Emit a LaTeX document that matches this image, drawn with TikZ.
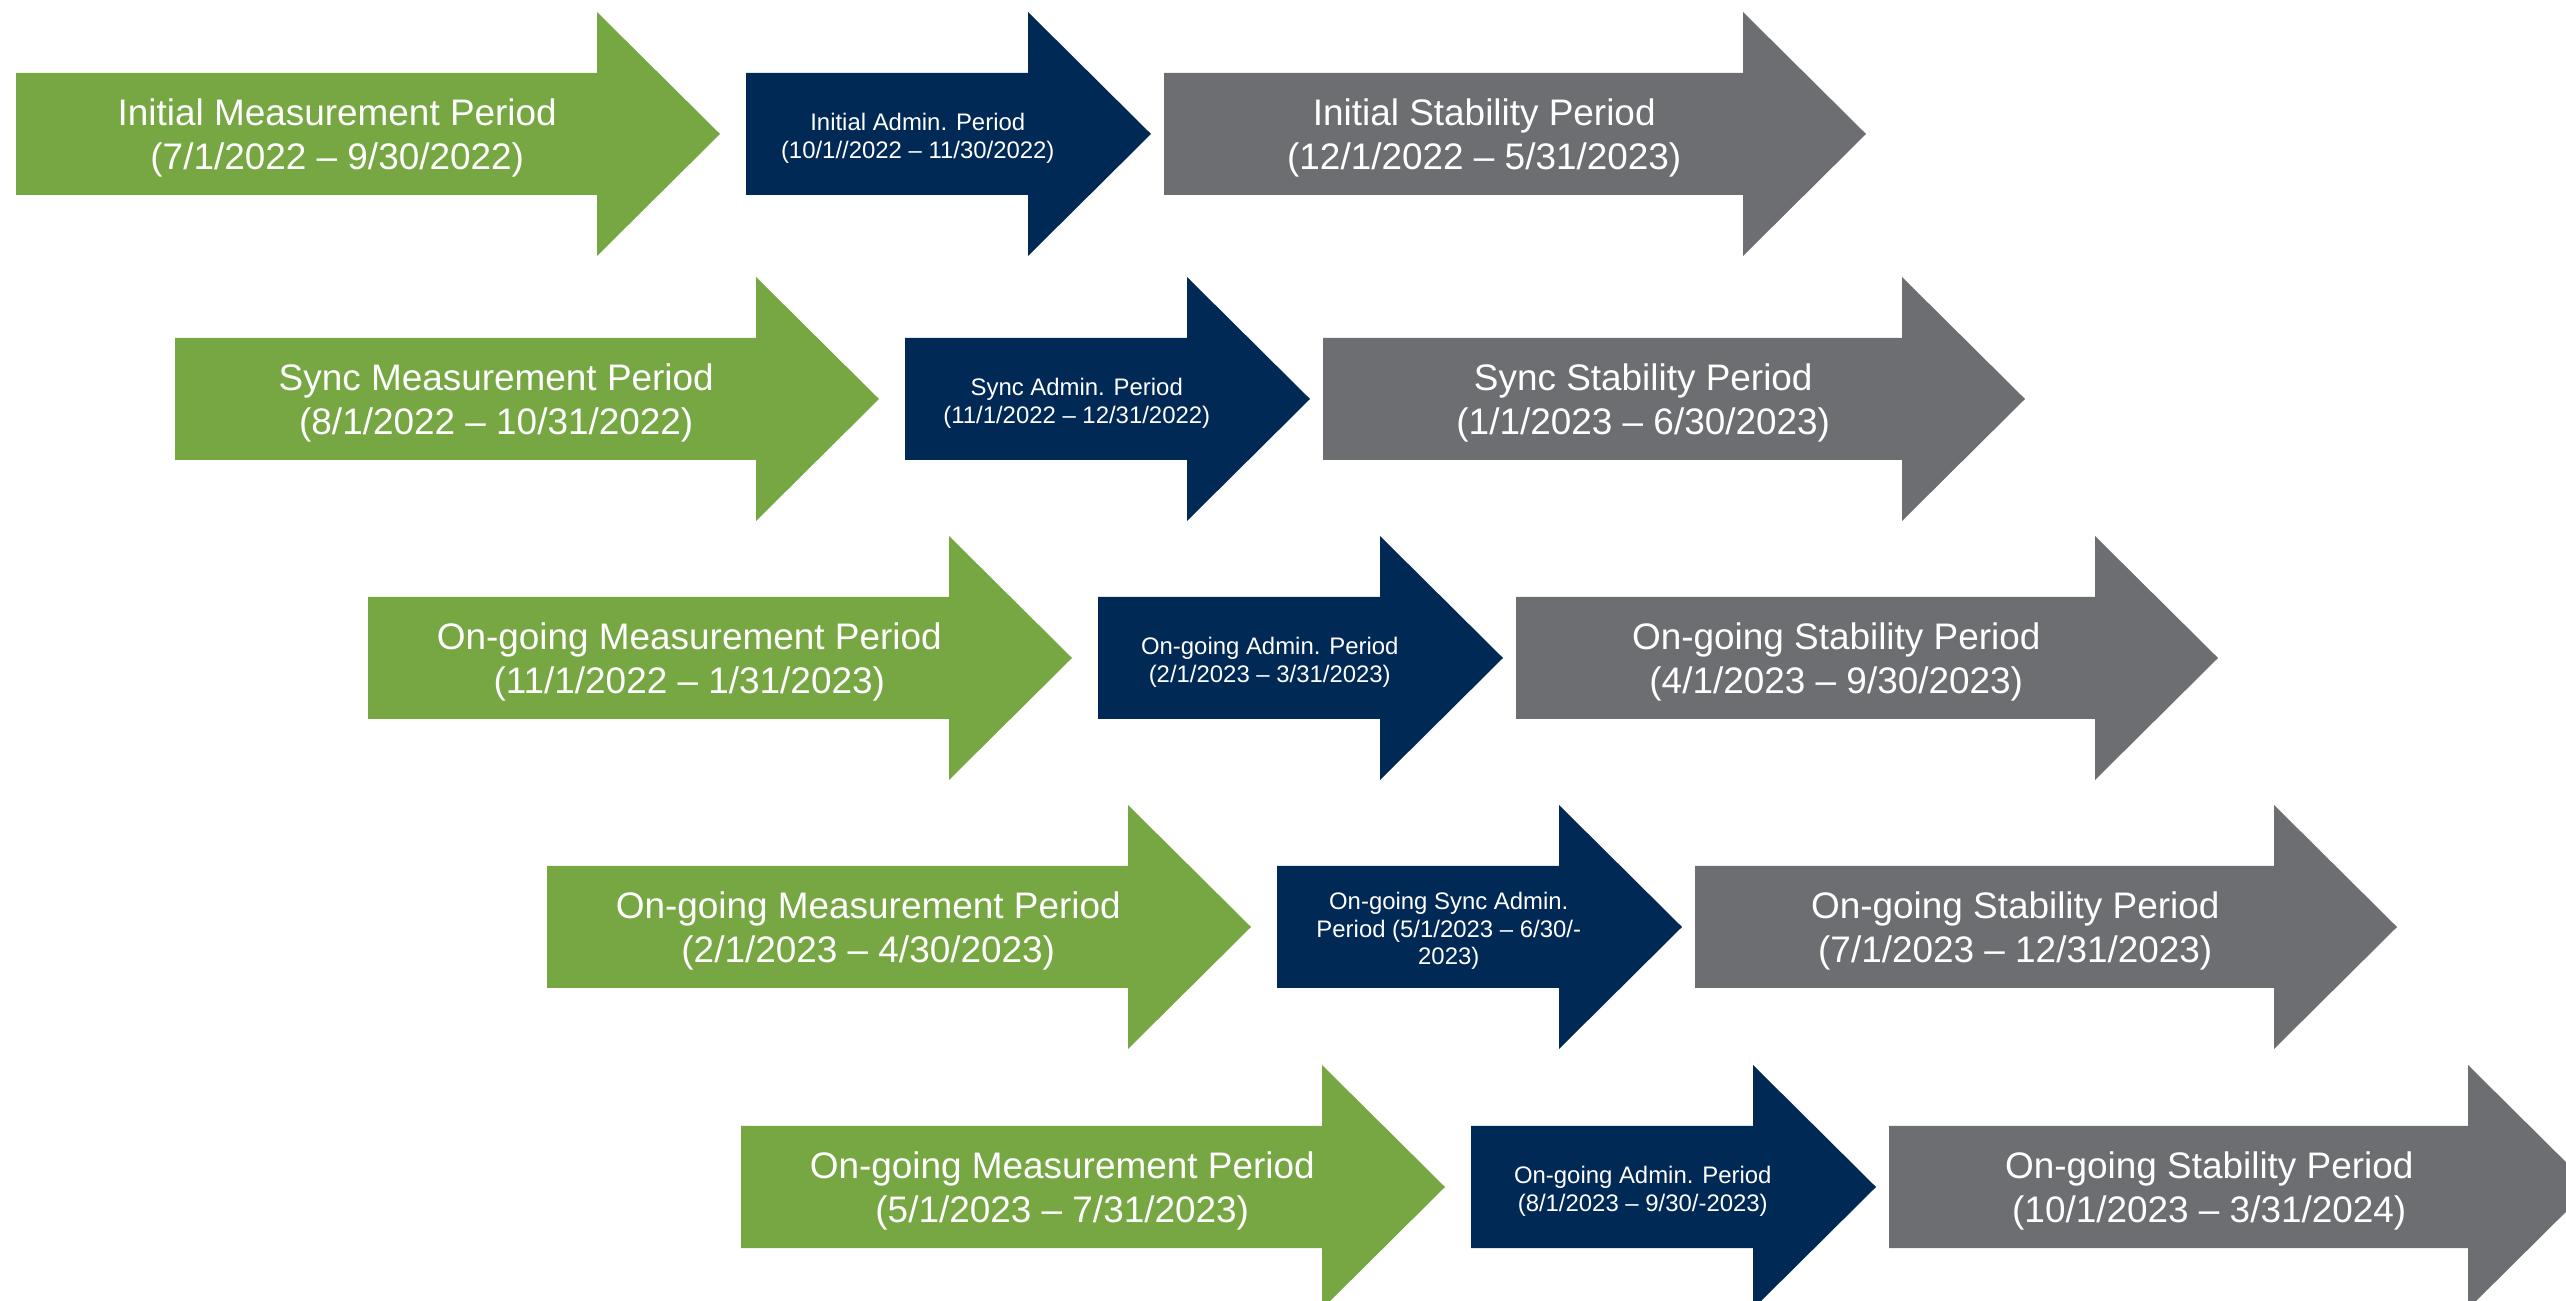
\documentclass[tikz,border=0pt]{standalone}
\usepackage{fontspec}
\setmainfont{Liberation Sans}
\definecolor{measgreen}{RGB}{118,167,66}
\definecolor{adminblue}{RGB}{0,41,86}
\definecolor{stabgray}{RGB}{109,110,113}
\tikzset{
  meas/.style={fill=measgreen},
  admin/.style={fill=adminblue},
  stab/.style={fill=stabgray},
  bigtext/.style={text=white,align=center,inner sep=0pt,font=\fontsize{10.5}{12.6}\selectfont},
  smalltext/.style={text=white,align=center,inner sep=0pt,font=\fontsize{6.8}{7.9}\selectfont}
}
% name, left x, centre y, shaft length, fill, text style, text
\newcommand\phasearrow[7]{%
  \fill[#5] (#2,#3-61) -- ++(#4,0) -- ++(0,-61) -- ++(123,122) -- ++(-123,122)
    -- ++(0,-61) -- ++(-#4,0) -- cycle;
  \node[#6] (#1) at ({#2+(#4+61.5)/2},#3+4) {#7};
}

\begin{document}
\begin{tikzpicture}[x=0.01cm,y=-0.01cm]
  \path[use as bounding box,clip] (0,0) rectangle (2566,1301);

  \phasearrow{meas1}{16}{134}{581}{meas}{bigtext}{Initial Measurement Period\\(7/1/2022 -- 9/30/2022)}
  \phasearrow{admin1}{746}{134}{282}{admin}{smalltext}{Initial Admin. Period\\(10/1//2022 -- 11/30/2022)}
  \phasearrow{stab1}{1164}{134}{579}{stab}{bigtext}{Initial Stability Period\\(12/1/2022 -- 5/31/2023)}

  \phasearrow{meas2}{175}{399}{581}{meas}{bigtext}{Sync Measurement Period\\(8/1/2022 -- 10/31/2022)}
  \phasearrow{admin2}{905}{399}{282}{admin}{smalltext}{Sync Admin. Period\\(11/1/2022 -- 12/31/2022)}
  \phasearrow{stab2}{1323}{399}{579}{stab}{bigtext}{Sync Stability Period\\(1/1/2023 -- 6/30/2023)}

  \phasearrow{meas3}{368}{658}{581}{meas}{bigtext}{On-going Measurement Period\\(11/1/2022 -- 1/31/2023)}
  \phasearrow{admin3}{1098}{658}{282}{admin}{smalltext}{On-going Admin. Period\\(2/1/2023 -- 3/31/2023)}
  \phasearrow{stab3}{1516}{658}{579}{stab}{bigtext}{On-going Stability Period\\(4/1/2023 -- 9/30/2023)}

  \phasearrow{meas4}{547}{927}{581}{meas}{bigtext}{On-going Measurement Period\\(2/1/2023 -- 4/30/2023)}
  \phasearrow{admin4}{1277}{927}{282}{admin}{smalltext}{On-going Sync Admin.\\Period (5/1/2023 -- 6/30/-\\2023)}
  \phasearrow{stab4}{1695}{927}{579}{stab}{bigtext}{On-going Stability Period\\(7/1/2023 -- 12/31/2023)}

  \phasearrow{meas5}{741}{1187}{581}{meas}{bigtext}{On-going Measurement Period\\(5/1/2023 -- 7/31/2023)}
  \phasearrow{admin5}{1471}{1187}{282}{admin}{smalltext}{On-going Admin. Period\\(8/1/2023 -- 9/30/-2023)}
  \phasearrow{stab5}{1889}{1187}{579}{stab}{bigtext}{On-going Stability Period\\(10/1/2023 -- 3/31/2024)}
\end{tikzpicture}
\end{document}
